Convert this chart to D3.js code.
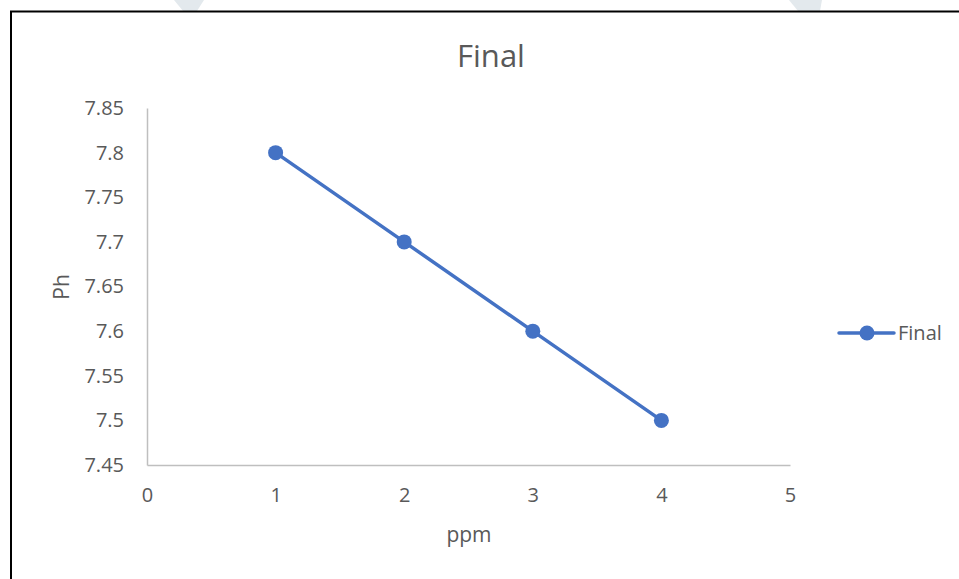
<!DOCTYPE html>
<html>
<head>
<meta charset="utf-8">
<script src="https://cdn.jsdelivr.net/npm/d3@7"></script>
<style>
  html, body { margin: 0; padding: 0; background: #ffffff; }
  svg { display: block; }
  text { font-family: "Open Sans", "Noto Sans", sans-serif; fill: #595959; }
</style>
</head>
<body>
<svg id="chart" width="959" height="579"></svg>
<script>
const title = "Final";
const seriesName = "Final";
const xLabel = "ppm";
const yLabel = "Ph";
const ppm = [1, 2, 3, 4];
const ph = [7.8, 7.7, 7.6, 7.5];
const xTicks = [0, 1, 2, 3, 4, 5];
const yTicks = [7.45, 7.5, 7.55, 7.6, 7.65, 7.7, 7.75, 7.8, 7.85];

const svg = d3.select("#chart");
const color = "#4472C4";

// faint watermark fragments at the top edge
svg.append("polygon").attr("points", "174,0 204,0 197,11 183,11").attr("fill", "#e3e9ed");
svg.append("polygon").attr("points", "789,0 822,0 820,11 798,11").attr("fill", "#e3e9ed");

// outer border (right and bottom fall outside the frame)
svg.append("path").attr("d", "M11,579 V11.5 H959")
  .attr("fill", "none").attr("stroke", "#000").attr("stroke-width", 2);

const x = d3.scaleLinear().domain([0, 5]).range([147, 790]);
const y = d3.scaleLinear().domain([7.45, 7.85]).range([465, 108]);

// y axis
const yAxis = svg.append("g").attr("transform", `translate(${x(0)},0)`)
  .call(d3.axisLeft(y).tickValues(yTicks).tickSize(0).tickPadding(23).tickFormat(d => String(+d.toFixed(2))));
yAxis.select(".domain").attr("stroke", "#bfbfbf").attr("stroke-width", 1.5);
yAxis.selectAll("text").style("font-size", "20px").style("font-family", "'Open Sans', sans-serif").attr("fill", "#595959");

// x axis
const xAxis = svg.append("g").attr("transform", `translate(0,${y(7.45)})`)
  .call(d3.axisBottom(x).tickValues(xTicks).tickSize(0).tickPadding(23).tickFormat(d3.format("d")));
xAxis.select(".domain").attr("stroke", "#bfbfbf").attr("stroke-width", 1.5);
xAxis.selectAll("text").style("font-size", "20px").style("font-family", "'Open Sans', sans-serif").attr("fill", "#595959");

// series
const data = ppm.map((v, i) => ({ x: v, y: ph[i] }));
svg.append("path").datum(data)
  .attr("fill", "none").attr("stroke", color).attr("stroke-width", 3.5).attr("stroke-linecap", "round")
  .attr("d", d3.line().x(d => x(d.x)).y(d => y(d.y)));
svg.append("g").selectAll("circle").data(data).join("circle")
  .attr("cx", d => x(d.x)).attr("cy", d => y(d.y)).attr("r", 7.5).attr("fill", color);

// title
svg.append("text").attr("x", 491).attr("y", 67).attr("text-anchor", "middle")
  .style("font-size", "31px").text(title);

// axis titles
svg.append("text").attr("transform", "translate(69,287) rotate(-90)").attr("text-anchor", "middle")
  .style("font-size", "21px").text(yLabel);
svg.append("text").attr("x", 469).attr("y", 542).attr("text-anchor", "middle")
  .style("font-size", "21px").text(xLabel);

// legend
const lg = svg.append("g").attr("transform", "translate(839,333)");
lg.append("line").attr("x1", 0).attr("x2", 55).attr("y1", 0).attr("y2", 0)
  .attr("stroke", color).attr("stroke-width", 3.5).attr("stroke-linecap", "round");
lg.append("circle").attr("cx", 28).attr("cy", 0).attr("r", 7.5).attr("fill", color);
lg.append("text").attr("x", 59).attr("y", 7).style("font-size", "20px").text(seriesName);
</script>
</body>
</html>
